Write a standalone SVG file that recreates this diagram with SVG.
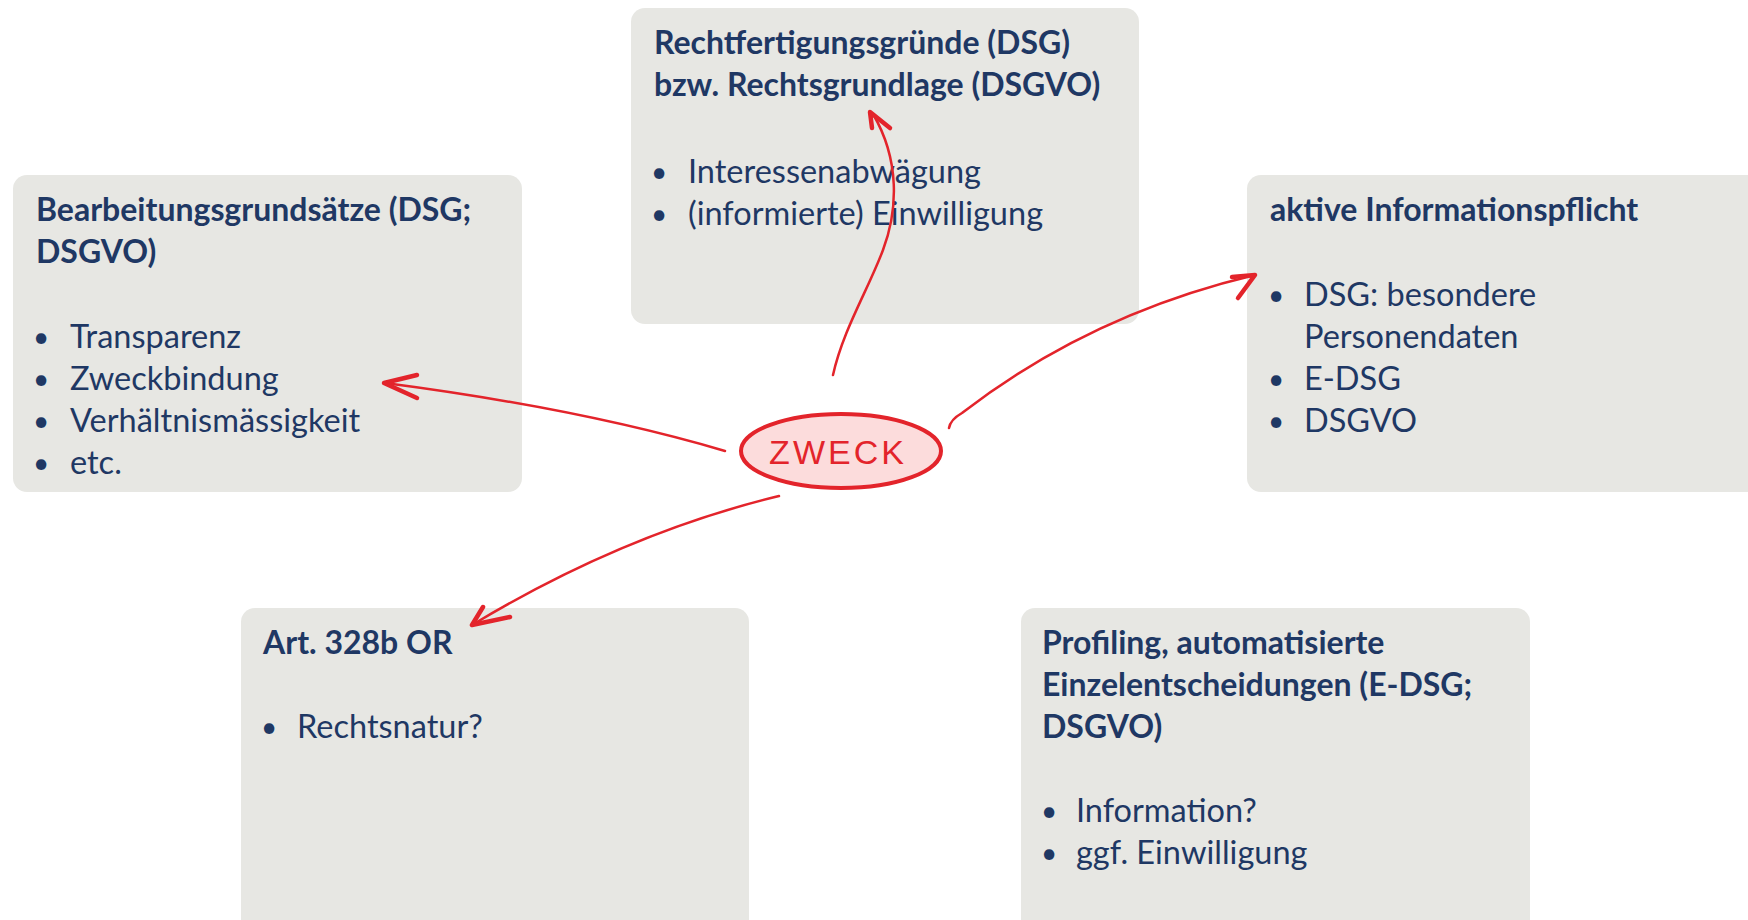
<svg xmlns="http://www.w3.org/2000/svg" width="1748" height="920" viewBox="0 0 1748 920">
<style>
.box{fill:#e7e7e3}
.t{font-family:Lato,"Open Sans","Liberation Sans",sans-serif;font-weight:700;font-size:32px;fill:#1f3864}
.b{font-family:Lato,"Open Sans","Liberation Sans",sans-serif;font-weight:400;font-size:32.5px;fill:#1f3864}
.d{font-family:Lato,"Open Sans","Liberation Sans",sans-serif;font-weight:400;font-size:28px;fill:#1f3864}
.ln{fill:none;stroke:#e3242b;stroke-width:2.5;stroke-linecap:round;stroke-linejoin:round}
.hd{fill:none;stroke:#e3242b;stroke-width:4.5;stroke-linecap:round;stroke-linejoin:round}
.zw{font-family:"Liberation Sans",sans-serif;font-size:34px;fill:#e3242b;letter-spacing:3px}
</style>
<rect width="1748" height="920" fill="#ffffff"/>
<g id="node-top">
<rect class="box" x="631" y="8" width="508" height="316" rx="14"/>
<text class="t" x="654" y="54">Rechtfertigungsgründe (DSG)</text>
<text class="t" x="654" y="96">bzw. Rechtsgrundlage (DSGVO)</text>
<text class="d" x="651" y="182">•</text><text class="b" x="688" y="183">Interessenabwägung</text>
<text class="d" x="651" y="224">•</text><text class="b" x="688" y="225">(informierte) Einwilligung</text>
</g>
<g id="node-left">
<rect class="box" x="13" y="175" width="509" height="317" rx="14"/>
<text class="t" x="36" y="221">Bearbeitungsgrundsätze (DSG;</text>
<text class="t" x="36" y="263">DSGVO)</text>
<text class="d" x="33" y="347">•</text><text class="b" x="70" y="348">Transparenz</text>
<text class="d" x="33" y="389">•</text><text class="b" x="70" y="390">Zweckbindung</text>
<text class="d" x="33" y="431">•</text><text class="b" x="70" y="432">Verhältnismässigkeit</text>
<text class="d" x="33" y="473">•</text><text class="b" x="70" y="474">etc.</text>
</g>
<g id="node-right">
<rect class="box" x="1247" y="175" width="520" height="317" rx="14"/>
<text class="t" x="1270" y="221">aktive Informationspflicht</text>
<text class="d" x="1268" y="305">•</text><text class="b" x="1304" y="306">DSG: besondere</text>
<text class="b" x="1304" y="348">Personendaten</text>
<text class="d" x="1268" y="389">•</text><text class="b" x="1304" y="390">E-DSG</text>
<text class="d" x="1268" y="431">•</text><text class="b" x="1304" y="432">DSGVO</text>
</g>
<g id="node-bottom-left">
<rect class="box" x="241" y="608" width="508" height="330" rx="14"/>
<text class="t" x="263" y="654">Art. 328b OR</text>
<text class="d" x="261" y="737">•</text><text class="b" x="297" y="738">Rechtsnatur?</text>
</g>
<g id="node-bottom-right">
<rect class="box" x="1021" y="608" width="509" height="330" rx="14"/>
<text class="t" x="1042" y="654">Profiling, automatisierte</text>
<text class="t" x="1042" y="696">Einzelentscheidungen (E-DSG;</text>
<text class="t" x="1042" y="738">DSGVO)</text>
<text class="d" x="1041" y="821">•</text><text class="b" x="1076" y="822">Information?</text>
<text class="d" x="1041" y="863">•</text><text class="b" x="1076" y="864">ggf. Einwilligung</text>
</g>
<g id="node-zweck">
<ellipse cx="841" cy="451" rx="100" ry="37" fill="#fcdcdc" stroke="#e3242b" stroke-width="4"/>
<text class="zw" x="838" y="464" text-anchor="middle">ZWECK</text>
</g>
<g id="connectors">
<path class="ln" d="M833,375 C843,330 868,290 883,250 C898,210 900,160 873,114"/>
<path class="hd" d="M872,128 L870,112 L890,128"/>
<path class="ln" d="M725,451 C620,420 500,398 385,383"/>
<path class="hd" d="M417,375 L384,383 L417,398"/>
<path class="ln" d="M949,428 C950,422 955,417 962,413 C1050,345 1150,300 1255,275"/>
<path class="hd" d="M1232,277 L1255,275 L1238,298"/>
<path class="ln" d="M779,496 C680,520 580,560 472,625"/>
<path class="hd" d="M483,607 L472,625 L510,617"/>
</g>
</svg>
